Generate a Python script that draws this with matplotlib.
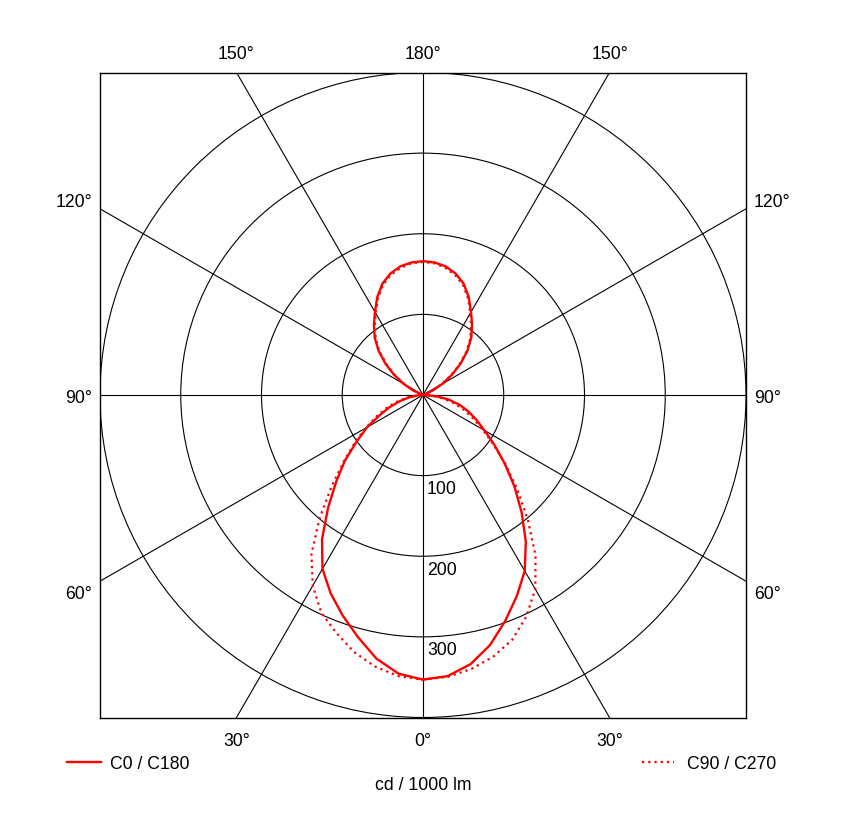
import numpy as np
import matplotlib
matplotlib.use("Agg")
import matplotlib.pyplot as plt
from matplotlib.patches import Circle

plt.rcParams["font.family"] = ["Liberation Sans", "DejaVu Sans"]

# gamma angles (deg) and luminous intensity in cd / 1000 lm
gamma = np.arange(0, 181, 5)
c0 = [353, 350, 339, 321, 298, 275, 252, 222, 190, 160, 132, 108, 88, 73, 60, 47, 32, 16, 0,
      0, 0, 0, 2, 14, 28, 44, 61, 78, 93, 106, 119, 134, 147, 156, 162, 165, 166]
c180 = [353, 347, 332, 311, 291, 271, 249, 218, 183, 152, 126, 100, 80, 59, 44, 30, 18, 7, 0,
        0, 0, 0, 2, 14, 28, 44, 61, 78, 93, 106, 119, 134, 147, 156, 162, 165, 166]
c90 = [353, 351, 345, 336, 323, 303, 278, 243, 202, 165, 133, 106, 85, 68, 54, 40, 26, 12, 0,
       0, 0, 0, 1, 12, 26, 42, 59, 76, 91, 104, 117, 132, 145, 154, 160, 164, 165]
c270 = [353, 350, 342, 330, 314, 298, 273, 241, 199, 160, 128, 103, 82, 64, 49, 35, 22, 9, 0,
        0, 0, 0, 1, 12, 26, 42, 59, 76, 91, 104, 117, 132, 145, 154, 160, 164, 165]

rings = [100, 200, 300, 400]
ring_labels = ["100", "200", "300"]
spoke_angles = np.arange(0, 360, 30)

angle_labels = ["30°", "0°", "30°", "150°", "180°", "150°", "120°", "90°", "60°", "120°", "90°", "60°"]
angle_label_pos = [(-231, -429, "center"), (0, -429, "center"), (231, -429, "center"),
                   (-231, 423, "center"), (0, 423, "center"), (231, 423, "center"),
                   (-410, 240, "right"), (-410, -3, "right"), (-410, -246, "right"),
                   (410, 240, "left"), (410, -3, "left"), (410, -246, "left")]

FS = 12.7


def to_xy(right, left):
    g = np.radians(gamma)
    r_right = np.asarray(right, dtype=float)
    r_left = np.asarray(left, dtype=float)[::-1]
    g_left = g[::-1]
    x = np.concatenate([r_right * np.sin(g), -r_left * np.sin(g_left)])
    y = np.concatenate([-r_right * np.cos(g), -r_left * np.cos(g_left)])
    return x, y


fig = plt.figure(figsize=(8.46, 8.20), dpi=100)
ax = fig.add_axes([100 / 846, 101.5 / 820, 646 / 846, 645 / 820])
ax.set_xlim(-400, 400)
ax.set_ylim(-400, 400)
ax.set_xticks([])
ax.set_yticks([])
for sp in ax.spines.values():
    sp.set_linewidth(1.0)
    sp.set_color("black")

# grid: rings and spokes
for r in rings:
    ax.add_patch(Circle((0, 0), r, fill=False, color="black", lw=0.8))
for a in spoke_angles:
    t = np.radians(a)
    ax.plot([0, 600 * np.sin(t)], [0, -600 * np.cos(t)], color="black", lw=0.8)

for r, lab in zip(rings, ring_labels):
    ax.text(5, -(r + 16), lab, ha="left", va="center", fontsize=FS)

for lab, (x, y, ha) in zip(angle_labels, angle_label_pos):
    ax.text(x, y, lab, ha=ha, va="center", fontsize=FS, clip_on=False)

# curves
x, y = to_xy(c0, c180)
l_solid, = ax.plot(x, y, color="red", lw=1.7, solid_joinstyle="round")
x, y = to_xy(c90, c270)
l_dot, = ax.plot(x, y, color="red", lw=1.6, linestyle=(0, (1, 1.8)))

leg1 = fig.legend(handles=[l_solid], labels=["C0 / C180"], loc="center left",
                  bbox_to_anchor=(67 / 846, 1 - 765 / 820), frameon=False,
                  borderpad=0, borderaxespad=0, handlelength=1.9,
                  handletextpad=0.55, fontsize=FS)
leg2 = fig.legend(handles=[l_dot], labels=["C90 / C270"], loc="center left",
                  bbox_to_anchor=(642 / 846, 1 - 765 / 820), frameon=False,
                  borderpad=0, borderaxespad=0, handlelength=1.8,
                  handletextpad=0.75, fontsize=FS)

fig.text(423 / 846, 1 - 786 / 820, "cd / 1000 lm", ha="center", va="center", fontsize=FS)

fig.savefig("out.png", dpi=100)
